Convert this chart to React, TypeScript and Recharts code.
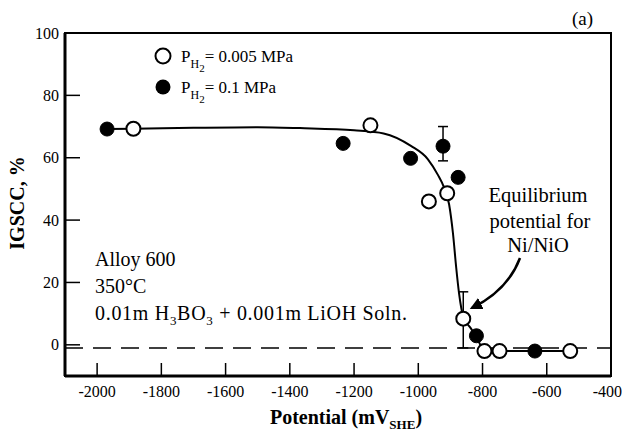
import { ComposedChart, Line, Scatter, XAxis, YAxis, ReferenceLine, ReferenceArea, ErrorBar } from "recharts"

const xTicks = [-2000, -1800, -1600, -1400, -1200, -1000, -800, -600, -400]
const yTicks = [0, 20, 40, 60, 80, 100]

// open circles, P_H2 = 0.005 MPa
const lowH2 = [
  { x: -1887, y: 69.3 },
  { x: -1149, y: 70.4 },
  { x: -967, y: 46 },
  { x: -910, y: 48.6 },
  { x: -860, y: 8.4, err: [9.4, 8.6] },
  { x: -794, y: -2 },
  { x: -747, y: -2 },
  { x: -527, y: -2 },
]

// filled circles, P_H2 = 0.1 MPa
const highH2 = [
  { x: -1969, y: 69.2 },
  { x: -1234, y: 64.6 },
  { x: -1024, y: 59.8 },
  { x: -923, y: 63.7, err: [4.7, 6.3] },
  { x: -876, y: 53.7 },
  { x: -819, y: 2.9 },
  { x: -637, y: -2 },
]

// hand drawn trend line
const trend = [
  { x: -1969, y: 69.2 },
  { x: -1887, y: 69.3 },
  { x: -1700, y: 69.6 },
  { x: -1500, y: 69.8 },
  { x: -1369, y: 69.5 },
  { x: -1200, y: 68.8 },
  { x: -1108, y: 67.8 },
  { x: -1023, y: 63.8 },
  { x: -970, y: 59.5 },
  { x: -939, y: 54.5 },
  { x: -920, y: 50.5 },
  { x: -904, y: 45 },
  { x: -892, y: 35.7 },
  { x: -882, y: 24.8 },
  { x: -873, y: 16.4 },
  { x: -860, y: 9 },
  { x: -838, y: 5.5 },
  { x: -819, y: 2.5 },
  { x: -800, y: -1.2 },
  { x: -790, y: -2 },
  { x: -747, y: -2 },
  { x: -637, y: -2 },
  { x: -527, y: -2 },
]

const font = "'Liberation Serif', 'Times New Roman', serif"

const OpenDot = (p: any) => <circle cx={p.cx} cy={p.cy} r={7} fill="#fff" stroke="#000" strokeWidth={2} />
const FilledDot = (p: any) => <circle cx={p.cx} cy={p.cy} r={7} fill="#000" stroke="#000" strokeWidth={1} />

export default function App() {
  return (
    <div style={{ position: "absolute", left: 0, top: 0, width: 622, height: 439, background: "#fff", fontFamily: font }}>
      <ComposedChart width={622} height={439} margin={{ top: 33, right: 11, bottom: 0, left: 0 }}>
        <XAxis
          type="number"
          dataKey="x"
          domain={[-2100, -400]}
          ticks={xTicks}
          allowDataOverflow
          height={63}
          axisLine={{ stroke: "#000", strokeWidth: 3 }}
          tickLine={{ stroke: "#000", strokeWidth: 1.5 }}
          tickSize={-13}
          tickMargin={23}
          tick={{ fill: "#000", fontSize: 16, fontFamily: font }}
        />
        <YAxis
          type="number"
          dataKey="y"
          domain={[-10, 100]}
          ticks={yTicks}
          allowDataOverflow
          width={65}
          axisLine={{ stroke: "#000", strokeWidth: 3 }}
          tickLine={{ stroke: "#000", strokeWidth: 1.5 }}
          tickSize={-15}
          tickMargin={21}
          tick={{ fill: "#000", fontSize: 16, fontFamily: font }}
        />
        <ReferenceArea x1={-2100} x2={-400} y1={-10} y2={100} fill="none" fillOpacity={0} stroke="#000" strokeWidth={2} />
        <ReferenceLine y={-1} stroke="#000" strokeWidth={1.5} strokeDasharray="18 10" />
        <Line data={trend} dataKey="y" type="monotone" stroke="#000" strokeWidth={2} dot={false} isAnimationActive={false} />
        <Scatter data={lowH2} dataKey="y" shape={OpenDot} isAnimationActive={false}>
          <ErrorBar dataKey="err" direction="y" width={5} stroke="#000" strokeWidth={1.5} />
        </Scatter>
        <Scatter data={highH2} dataKey="y" shape={FilledDot} isAnimationActive={false}>
          <ErrorBar dataKey="err" direction="y" width={5} stroke="#000" strokeWidth={1.5} />
        </Scatter>
      </ComposedChart>

      <svg width={622} height={439} style={{ position: "absolute", left: 0, top: 0, pointerEvents: "none" }} fontFamily={font} fill="#000">
        <defs>
          <marker id="head" viewBox="0 0 10 10" refX="8" refY="5" markerWidth="5" markerHeight="5" orient="auto">
            <path d="M0,0 L10,5 L0,10 z" fill="#000" />
          </marker>
        </defs>
        <text x={572} y={25} fontSize={19}>(a)</text>

        <circle cx={163} cy={56} r={7.5} fill="#fff" stroke="#000" strokeWidth={2} />
        <text x={181} y={62} fontSize={17}>
          P<tspan fontSize={12} dy={6}>H</tspan><tspan fontSize={11} dy={4}>2</tspan><tspan dy={-10}>= 0.005 MPa</tspan>
        </text>
        <circle cx={163} cy={87} r={7.5} fill="#000" />
        <text x={181} y={93} fontSize={17}>
          P<tspan fontSize={12} dy={6}>H</tspan><tspan fontSize={11} dy={4}>2</tspan><tspan dy={-10}>= 0.1 MPa</tspan>
        </text>

        <text x={95} y={266} fontSize={20}>Alloy 600</text>
        <text x={95} y={293} fontSize={20}>350°C</text>
        <text x={95} y={320} fontSize={20} letterSpacing={0.7}>
          0.01m H<tspan fontSize={13} dy={5}>3</tspan><tspan dy={-5}>BO</tspan><tspan fontSize={13} dy={5}>3</tspan><tspan dy={-5}> + 0.001m LiOH Soln.</tspan>
        </text>

        <text x={538} y={202} fontSize={20.5} textAnchor="middle">Equilibrium</text>
        <text x={540} y={228} fontSize={20.5} textAnchor="middle">potential for</text>
        <text x={538} y={252} fontSize={20.5} textAnchor="middle">Ni/NiO</text>
        <path d="M520,258 Q508,290 472,308" fill="none" stroke="#000" strokeWidth={2.5} markerEnd="url(#head)" />

        <text transform="translate(24,203) rotate(-90)" fontSize={20} fontWeight="bold" textAnchor="middle">IGSCC, %</text>
        <text x={346} y={424} fontSize={20} fontWeight="bold" textAnchor="middle">
          Potential (mV<tspan fontSize={13} dy={5}>SHE</tspan><tspan dy={-5}>)</tspan>
        </text>
      </svg>
    </div>
  )
}
